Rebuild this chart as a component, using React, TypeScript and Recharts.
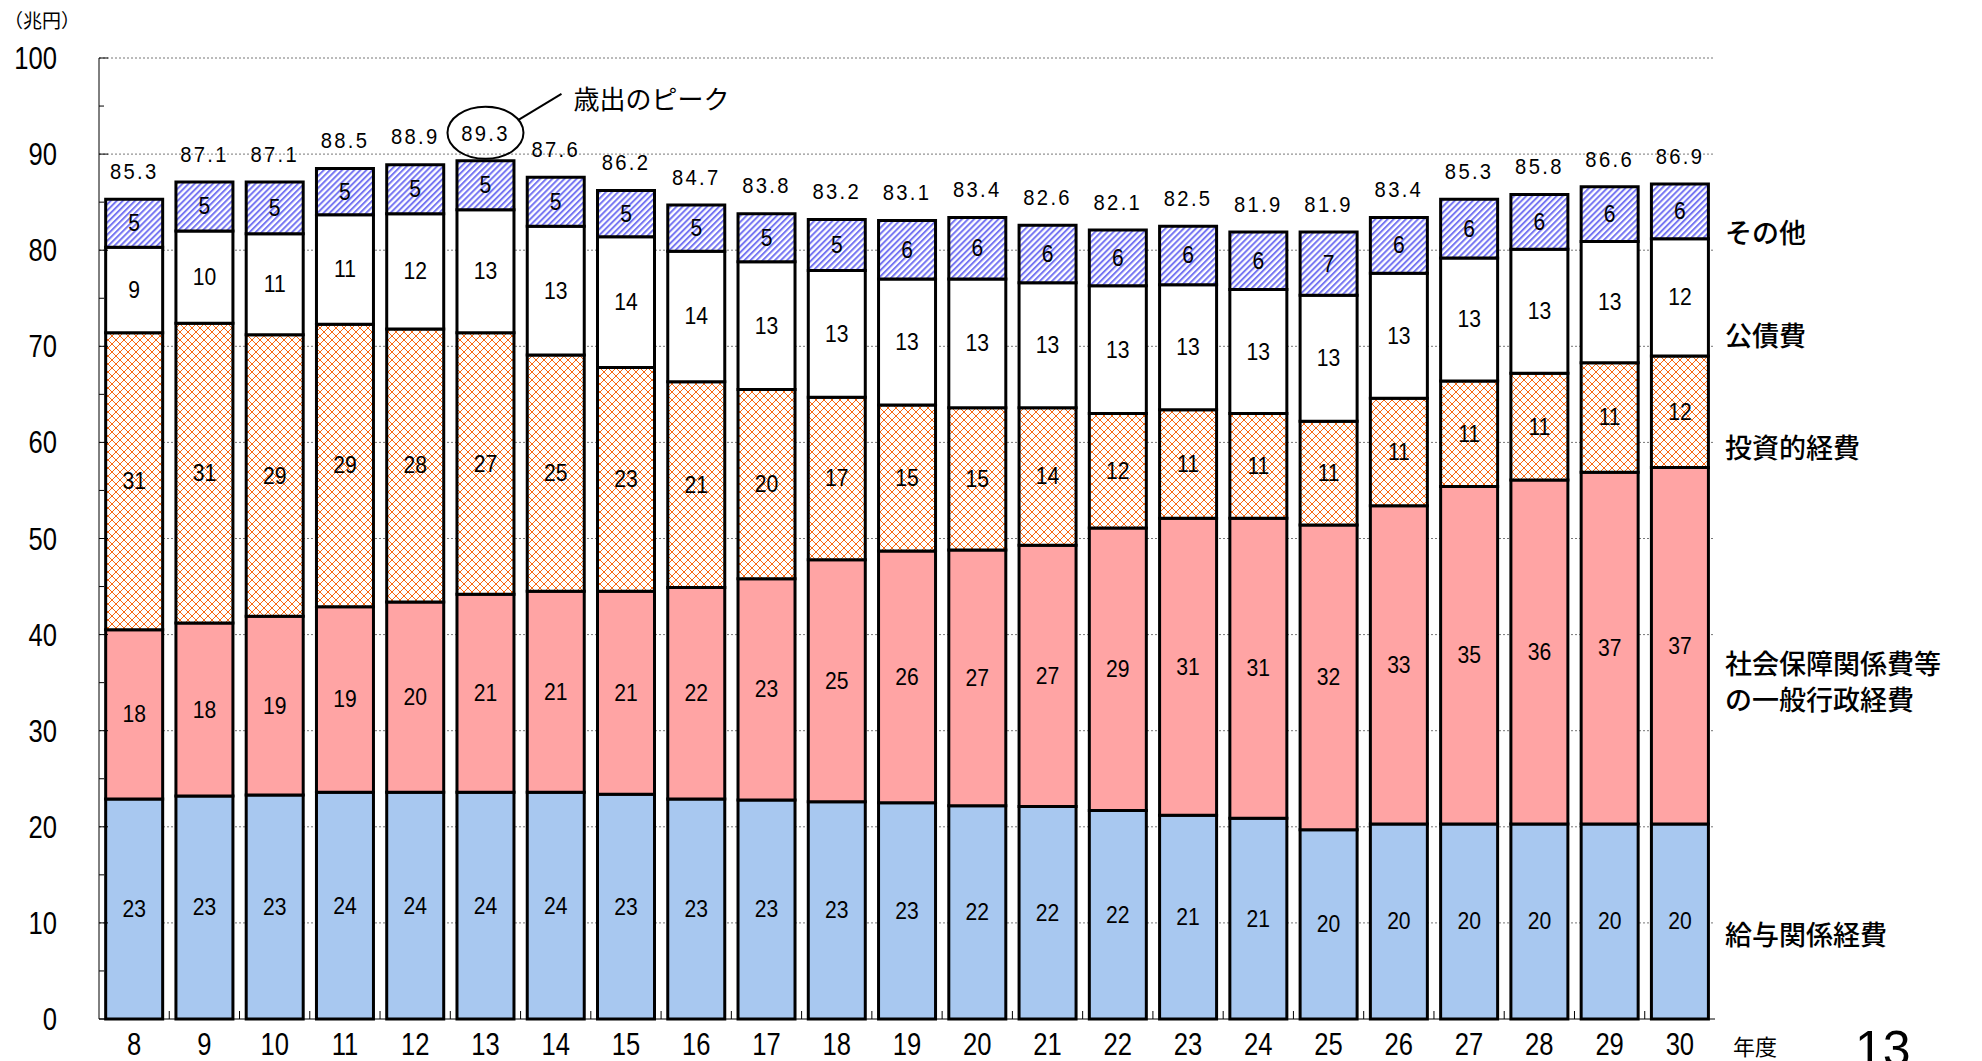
import React from 'react';
import { BarChart, Bar, XAxis, YAxis, CartesianGrid, LabelList } from 'recharts';

// 年度 (平成)
const years = ['8', '9', '10', '11', '12', '13', '14', '15', '16', '17', '18', '19', '20', '21', '22', '23', '24', '25', '26', '27', '28', '29', '30'];

// 兆円, bottom to top
const kyuyo = [22.9, 23.2, 23.3, 23.6, 23.6, 23.6, 23.6, 23.4, 22.9, 22.8, 22.6, 22.5, 22.2, 22.1, 21.7, 21.2, 20.9, 19.7, 20.3, 20.3, 20.3, 20.3, 20.3];
const ippan = [17.6, 18.0, 18.6, 19.3, 19.8, 20.6, 20.9, 21.1, 22.0, 23.0, 25.2, 26.2, 26.6, 27.2, 29.4, 30.9, 31.2, 31.7, 33.1, 35.1, 35.8, 36.6, 37.1];
const toushi = [30.9, 31.2, 29.3, 29.4, 28.4, 27.2, 24.6, 23.3, 21.4, 19.7, 16.9, 15.2, 14.8, 14.3, 11.9, 11.3, 10.9, 10.8, 11.2, 11.0, 11.1, 11.4, 11.6];
const kousai = [8.9, 9.6, 10.5, 11.4, 12.0, 12.8, 13.4, 13.6, 13.6, 13.3, 13.2, 13.1, 13.4, 13.0, 13.3, 13.0, 12.9, 13.1, 13.0, 12.8, 12.9, 12.6, 12.2];
const sonota = [5.0, 5.1, 5.4, 4.8, 5.1, 5.1, 5.1, 4.8, 4.8, 5.0, 5.3, 6.1, 6.4, 6.0, 5.8, 6.1, 6.0, 6.6, 5.8, 6.1, 5.7, 5.7, 5.7];
const totals = [85.3, 87.1, 87.1, 88.5, 88.9, 89.3, 87.6, 86.2, 84.7, 83.8, 83.2, 83.1, 83.4, 82.6, 82.1, 82.5, 81.9, 81.9, 83.4, 85.3, 85.8, 86.6, 86.9];

const yDomain = [0, 100];
const yTicks = [0, 5, 10, 15, 20, 25, 30, 35, 40, 45, 50, 55, 60, 65, 70, 75, 80, 85, 90, 95, 100];
const gridValues = [10, 20, 30, 40, 50, 60, 70, 80, 90, 100];

const seriesLabels = ['その他', '公債費', '投資的経費', '社会保障関係費等', 'の一般行政経費', '給与関係経費'];
const peakText = '歳出のピーク';
const unitText = '（兆円）';
const yearText = '年度';
const pageNo = '13';

const data = years.map((year, i) => ({
  year,
  kyuyo: kyuyo[i],
  ippan: ippan[i],
  toushi: toushi[i],
  kousai: kousai[i],
  sonota: sonota[i],
}));

const peakIndex = totals.indexOf(Math.max(...totals));

const NUM_FONT = '"Liberation Sans", Arial, sans-serif';
const JP_FONT = '"Noto Sans CJK JP", sans-serif';

const segValue = (v: any) => (Array.isArray(v) ? v[1] - v[0] : Number(v));

// narrow digits, like the condensed face of the original
const NumText = ({ x, y, size, sx = 0.85, anchor = 'middle', spacing = 0, children }: any) => (
  <text
    transform={`translate(${x},${y}) scale(${sx},1)`}
    textAnchor={anchor}
    dominantBaseline="central"
    fontFamily={NUM_FONT}
    fontSize={size}
    letterSpacing={spacing}
    fill="#000"
  >
    {children}
  </text>
);

const SegLabel = (props: any) => {
  const { x, y, width, height, value } = props;
  return (
    <NumText x={x + width / 2} y={y + height / 2} size={24} sx={0.88}>
      {Math.round(segValue(value))}
    </NumText>
  );
};

const TotalLabel = (props: any) => {
  const { x, y, width, index } = props;
  const cx = x + width / 2;
  const cy = y - 28;
  return (
    <g>
      <NumText x={cx} y={cy} size={22} sx={0.92} spacing={2.5}>
        {totals[index].toFixed(1)}
      </NumText>
      {index === peakIndex && (
        <g>
          <ellipse cx={cx} cy={cy} rx={38} ry={26} fill="none" stroke="#000" strokeWidth={2} />
          <line x1={cx + 33} y1={cy - 13} x2={cx + 76} y2={cy - 39} stroke="#000" strokeWidth={2} />
          <text x={cx + 88} y={cy - 35} dominantBaseline="central" fontFamily={JP_FONT} fontSize={26} fill="#000">
            {peakText}
          </text>
        </g>
      )}
    </g>
  );
};

const YTick = (props: any) => {
  const { x, y, payload } = props;
  const major = payload.value % 10 === 0;
  return (
    <g>
      <line x1={x} y1={y} x2={x + (major ? 9 : 5)} y2={y} stroke="#000" strokeWidth={1} />
      {major && (
        <NumText x={x - 42} y={y} size={32} sx={0.8} anchor="end">
          {payload.value}
        </NumText>
      )}
    </g>
  );
};

const XTick = (props: any) => {
  const { x, y, payload, index } = props;
  const half = payload && payload.offset ? payload.offset : 0;
  return (
    <g>
      {index > 0 && half > 0 && (
        <line x1={x - half} y1={y} x2={x - half} y2={y - 8} stroke="#000" strokeWidth={1} />
      )}
      <NumText x={x} y={y + 25} size={32} sx={0.8}>
        {payload.value}
      </NumText>
    </g>
  );
};

const gridGen = ({ offset }: any) =>
  gridValues.map((v) => offset.top + offset.height * (1 - (v - yDomain[0]) / (yDomain[1] - yDomain[0])));

export default function App() {
  return (
    <div style={{ position: 'absolute', left: 0, top: 0, width: 1982, height: 1061, background: '#fff' }}>
      <svg width={0} height={0} style={{ position: 'absolute' }}>
        <defs>
          <pattern id="hatchOrange" width={8} height={8} patternUnits="userSpaceOnUse">
            <rect width={8} height={8} fill="#fff" />
            <path d="M0,0 L8,8 M8,0 L0,8" stroke="#f86812" strokeWidth={1} shapeRendering="crispEdges" />
          </pattern>
          <pattern id="hatchBlue" width={4.3} height={4.3} patternUnits="userSpaceOnUse" patternTransform="rotate(45)">
            <rect width={4.3} height={4.3} fill="#fff" />
            <rect width={2.0} height={4.3} fill="#7676f2" />
          </pattern>
        </defs>
      </svg>
      <BarChart
        width={1982}
        height={1061}
        data={data}
        margin={{ top: 58, right: 267, bottom: 0, left: 0 }}
        barCategoryGap="9.5%"
      >
        <CartesianGrid
          vertical={false}
          stroke="#777"
          strokeDasharray="2 2"
          horizontalCoordinatesGenerator={gridGen}
        />
        <XAxis
          dataKey="year"
          height={42}
          tickLine={false}
          tickSize={0}
          tickMargin={0}
          axisLine={{ stroke: '#000' }}
          tick={<XTick />}
          interval={0}
        />
        <YAxis
          width={99}
          domain={yDomain}
          ticks={yTicks}
          interval={0}
          tickLine={false}
          tickSize={0}
          tickMargin={0}
          axisLine={{ stroke: '#000' }}
          tick={<YTick />}
        />
        <YAxis
          yAxisId="right"
          orientation="right"
          width={0}
          domain={yDomain}
          tick={false}
          tickLine={false}
          axisLine={{ stroke: '#000' }}
        />
        <Bar dataKey="kyuyo" stackId="a" fill="#a8c8f0" stroke="#000" strokeWidth={3} isAnimationActive={false}>
          <LabelList dataKey="kyuyo" content={<SegLabel />} />
        </Bar>
        <Bar dataKey="ippan" stackId="a" fill="#ffa4a4" stroke="#000" strokeWidth={3} isAnimationActive={false}>
          <LabelList dataKey="ippan" content={<SegLabel />} />
        </Bar>
        <Bar dataKey="toushi" stackId="a" fill="url(#hatchOrange)" stroke="#000" strokeWidth={3} isAnimationActive={false}>
          <LabelList dataKey="toushi" content={<SegLabel />} />
        </Bar>
        <Bar dataKey="kousai" stackId="a" fill="#fff" stroke="#000" strokeWidth={3} isAnimationActive={false}>
          <LabelList dataKey="kousai" content={<SegLabel />} />
        </Bar>
        <Bar dataKey="sonota" stackId="a" fill="url(#hatchBlue)" stroke="#000" strokeWidth={3} isAnimationActive={false}>
          <LabelList dataKey="sonota" content={<SegLabel />} />
          <LabelList dataKey="sonota" content={<TotalLabel />} />
        </Bar>
      </BarChart>
      <svg width={1982} height={1061} style={{ position: 'absolute', left: 0, top: 0, pointerEvents: 'none' }}>
        <text x={4} y={19} dominantBaseline="central" fontFamily={JP_FONT} fontSize={19} fill="#000">{unitText}</text>
        <g fontFamily={JP_FONT} fontSize={27} fontWeight={500} fill="#000" dominantBaseline="central">
          <text x={1725} y={231}>{seriesLabels[0]}</text>
          <text x={1725} y={334}>{seriesLabels[1]}</text>
          <text x={1725} y={446}>{seriesLabels[2]}</text>
          <text x={1725} y={662}>{seriesLabels[3]}</text>
          <text x={1725} y={698}>{seriesLabels[4]}</text>
          <text x={1725} y={933}>{seriesLabels[5]}</text>
        </g>
        <text x={1733} y={1045} dominantBaseline="central" fontFamily={JP_FONT} fontSize={22} fill="#000">{yearText}</text>
        <text x={1855} y={1066} fontFamily='"Liberation Sans", sans-serif' fontSize={50} fill="#000">{pageNo}</text>
      </svg>
    </div>
  );
}
